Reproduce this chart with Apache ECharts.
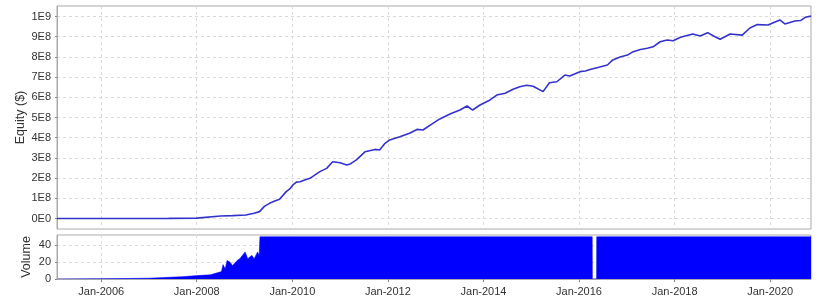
<!DOCTYPE html>
<html>
<head>
<meta charset="utf-8">
<script src="https://cdn.jsdelivr.net/npm/echarts@6/dist/echarts.min.js"></script>
<style>html,body{margin:0;padding:0;background:#fff}#c{width:818px;height:300px}</style>
</head>
<body>
<div id="c"></div>
<script>
const equityDates = ['2005-01-28','2006-01-01','2007-01-01','2007-06-01','2008-01-01','2008-07-01','2008-10-01','2009-01-10','2009-03-15','2009-04-25','2009-06-01','2009-07-10','2009-08-15','2009-09-25','2009-11-15','2009-12-10','2010-01-05','2010-02-01','2010-03-01','2010-04-10','2010-05-15','2010-07-30','2010-09-20','2010-11-05','2011-01-01','2011-02-20','2011-03-20','2011-05-05','2011-07-10','2011-09-25','2011-10-30','2011-12-10','2012-01-15','2012-04-01','2012-06-15','2012-08-10','2012-09-25','2012-12-10','2013-02-01','2013-04-20','2013-07-05','2013-08-28','2013-10-10','2013-12-05','2014-02-20','2014-04-12','2014-06-15','2014-08-15','2014-10-05','2014-11-28','2015-01-15','2015-04-01','2015-05-20','2015-07-15','2015-09-15','2015-10-22','2016-01-08','2016-02-18','2016-03-25','2016-06-08','2016-08-05','2016-09-15','2016-11-10','2017-01-05','2017-02-18','2017-04-15','2017-06-05','2017-07-20','2017-09-12','2017-11-05','2017-12-20','2018-02-15','2018-05-20','2018-07-15','2018-09-10','2018-11-05','2018-12-15','2019-03-01','2019-06-01','2019-07-30','2019-09-25','2019-12-15','2020-03-15','2020-04-22','2020-07-08','2020-08-20','2020-09-25','2020-11-08'];
const equityValues = [0,0,0,0.005e8,0.02e8,0.12e8,0.14e8,0.17e8,0.26e8,0.34e8,0.6e8,0.75e8,0.85e8,0.95e8,1.33e8,1.45e8,1.66e8,1.8e8,1.82e8,1.92e8,1.99e8,2.32e8,2.48e8,2.81e8,2.76e8,2.65e8,2.7e8,2.9e8,3.3e8,3.42e8,3.39e8,3.72e8,3.89e8,4.05e8,4.22e8,4.41e8,4.38e8,4.71e8,4.93e8,5.17e8,5.37e8,5.57e8,5.37e8,5.62e8,5.87e8,6.11e8,6.2e8,6.4e8,6.52e8,6.6e8,6.55e8,6.28e8,6.72e8,6.77e8,7.1e8,7.05e8,7.27e8,7.3e8,7.38e8,7.5e8,7.6e8,7.85e8,8.0e8,8.09e8,8.26e8,8.37e8,8.43e8,8.5e8,8.75e8,8.84e8,8.8e8,8.97e8,9.13e8,9.03e8,9.2e8,9.0e8,8.87e8,9.13e8,9.08e8,9.43e8,9.6e8,9.58e8,9.83e8,9.63e8,9.78e8,9.8e8,9.96e8,10.02e8];

const volumeDates = ['2005-01-28','2005-12-01','2006-06-01','2007-01-01','2007-06-01','2007-09-10','2008-01-05','2008-04-15','2008-07-08','2008-07-20','2008-08-05','2008-08-20','2008-09-10','2008-10-01','2008-11-05','2008-11-25','2009-01-05','2009-01-25','2009-02-25','2009-03-15','2009-04-10','2009-04-22','2009-04-28','2016-04-11','2016-04-12','2016-05-14','2016-05-15','2020-11-08'];
const volumeValues = [0,0.3,0.5,1,2,2.8,4,5,8.8,17,12,22,20,16,22,24,32,24,28,24,32,28,50,50,0,0,50,50];

const xMin = '2005-01-28';
const xMax = '2020-11-08';
const xTickYears = [2006,2008,2010,2012,2014,2016,2018,2020];
const equityTicks = [0,1e8,2e8,3e8,4e8,5e8,6e8,7e8,8e8,9e8,1e9];
const volumeTicks = [0,20,40];

const xTicks = xTickYears.map(y => new Date(y,0,1).getTime());
const toTime = s => { const p = s.split('-').map(Number); return new Date(p[0], p[1]-1, p[2]).getTime(); };
const eqData = equityDates.map((d,i) => [toTime(d), equityValues[i]]);
const volData = volumeDates.map((d,i) => [toTime(d), volumeValues[i]]);

function sci(v){
  if (v === 0) return '0E0';
  const e = Math.floor(Math.log10(v) + 1e-9);
  const m = Math.round(v / Math.pow(10, e));
  return m + 'E' + e;
}

const font = 'Liberation Sans, Arial, sans-serif';
const gridLine = {show:true, lineStyle:{color:'#dadada', type:[3,3], width:1}};
const chart = echarts.init(document.getElementById('c'), null, {renderer:'canvas'});
chart.setOption({
  animation:false,
  backgroundColor:'#fff',
  grid:[
    {left:57, right:7, top:6, height:223, show:true, borderColor:'#aaaaaa', borderWidth:1, backgroundColor:'#fff'},
    {left:57, right:7, top:235, height:44, show:true, borderColor:'#aaaaaa', borderWidth:1, backgroundColor:'#fff'}
  ],
  xAxis:[
    {type:'value', gridIndex:0, min:toTime(xMin), max:toTime(xMax),
     axisLine:{show:false}, axisTick:{show:false, customValues:xTicks},
     axisLabel:{show:false, customValues:xTicks}, splitLine:gridLine},
    {type:'value', gridIndex:1, min:toTime(xMin), max:toTime(xMax),
     axisLine:{show:true, lineStyle:{color:'#aaaaaa'}},
     axisTick:{show:true, length:3, customValues:xTicks, lineStyle:{color:'#888'}},
     axisLabel:{show:true, customValues:xTicks, margin:7, color:'#333', fontSize:11, fontFamily:font,
       formatter: v => 'Jan-' + new Date(v).getFullYear()},
     splitLine:gridLine}
  ],
  yAxis:[
    {type:'value', gridIndex:0, min:-0.052e9, max:1.052e9,
     name:'Equity ($)', nameLocation:'middle', nameGap:30, nameRotate:90, nameMoveOverlap:false,
     nameTextStyle:{color:'#333', fontSize:12.5, fontFamily:font},
     axisLine:{show:true, lineStyle:{color:'#aaaaaa'}},
     axisTick:{show:true, length:2, customValues:equityTicks, lineStyle:{color:'#888'}},
     axisLabel:{customValues:equityTicks, margin:6, color:'#333', fontSize:11, fontFamily:font, formatter: sci},
     splitLine:gridLine},
    {type:'value', gridIndex:1, min:0, max:52,
     name:'Volume', nameLocation:'middle', nameGap:24, nameRotate:90, nameMoveOverlap:false,
     nameTextStyle:{color:'#333', fontSize:12.5, fontFamily:font},
     axisLine:{show:true, lineStyle:{color:'#aaaaaa'}},
     axisTick:{show:true, length:2, customValues:volumeTicks, lineStyle:{color:'#888'}},
     axisLabel:{customValues:volumeTicks, margin:6, color:'#333', fontSize:11, fontFamily:font},
     splitLine:gridLine}
  ],
  series:[
    {type:'line', xAxisIndex:0, yAxisIndex:0, data:eqData, showSymbol:false, symbol:'none',
     lineStyle:{color:'#3333cc', width:1.6}, z:3},
    {type:'line', xAxisIndex:1, yAxisIndex:1, data:volData, showSymbol:false, symbol:'none',
     lineStyle:{color:'#0000ff', width:0.5}, areaStyle:{color:'#0000ff', opacity:1}, z:3}
  ]
});
</script>
</body>
</html>
